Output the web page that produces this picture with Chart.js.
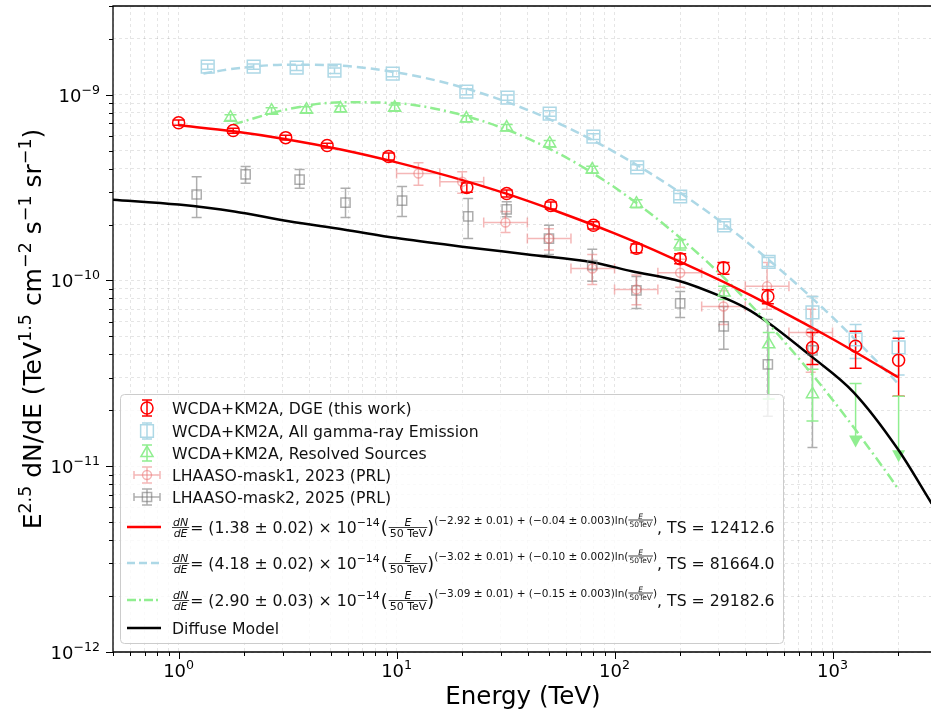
<!DOCTYPE html>
<html>
<head>
<meta charset="utf-8">
<script src="https://cdn.jsdelivr.net/npm/chart.js@4/dist/chart.umd.min.js"></script>
<style>
	html, body { margin: 0; padding: 0; background: #fff; }
</style>
</head>
<body>
<canvas id="chart" width="931" height="714"></canvas>
<script>
// assi (log-log)
var xMin = 0.5, xMax = 2830;
var yMin = 1e-12, yMax = 3e-9;
var xMajor = [1, 10, 100, 1000];
var yMajor = [1e-12, 1e-11, 1e-10, 1e-9];

// WCDA+KM2A, DGE (this work)
var dgeE   = [1.0, 1.78, 3.1, 4.8, 9.2, 21, 32, 51, 80, 126, 200, 316, 505, 809, 1276, 2010];
var dgeVal = [7.06e-10, 6.41e-10, 5.87e-10, 5.32e-10, 4.64e-10, 3.16e-10, 2.94e-10, 2.53e-10, 1.98e-10, 1.49e-10, 1.31e-10, 1.17e-10, 8.2e-11, 4.36e-11, 4.42e-11, 3.72e-11];
var dgeHi  = [7.3e-10, 6.6e-10, 6.05e-10, 5.48e-10, 4.85e-10, 3.35e-10, 3.07e-10, 2.64e-10, 2.07e-10, 1.57e-10, 1.39e-10, 1.25e-10, 8.9e-11, 5.25e-11, 5.32e-11, 4.88e-11];
var dgeLo  = [6.85e-10, 6.2e-10, 5.7e-10, 5.16e-10, 4.45e-10, 2.98e-10, 2.81e-10, 2.42e-10, 1.89e-10, 1.41e-10, 1.23e-10, 1.08e-10, 7.5e-11, 3.53e-11, 3.37e-11, 2.38e-11];

// WCDA+KM2A, All gamma-ray Emission
var allE   = [1.36, 2.21, 3.48, 5.19, 9.6, 20.9, 32.3, 50.4, 80, 127, 200, 318, 509, 809, 1276, 2010];
var allVal = [1.416e-9, 1.416e-9, 1.396e-9, 1.346e-9, 1.297e-9, 1.038e-9, 9.64e-10, 7.91e-10, 5.94e-10, 4.06e-10, 2.83e-10, 1.98e-10, 1.26e-10, 6.73e-11, 4.82e-11, 4.36e-11];
var allHi  = [1.46e-9, 1.46e-9, 1.44e-9, 1.39e-9, 1.34e-9, 1.075e-9, 9.95e-10, 8.18e-10, 6.15e-10, 4.2e-10, 2.94e-10, 2.07e-10, 1.33e-10, 8.2e-11, 5.8e-11, 5.32e-11];
var allLo  = [1.37e-9, 1.37e-9, 1.35e-9, 1.30e-9, 1.25e-9, 1.0e-9, 9.33e-10, 7.64e-10, 5.73e-10, 3.92e-10, 2.72e-10, 1.89e-10, 1.19e-10, 5.46e-11, 3.8e-11, 3.1e-11];

// WCDA+KM2A, Resolved Sources
var srcE   = [1.73, 2.67, 3.86, 5.53, 9.8, 20.9, 32, 50.4, 79, 126, 200, 318, 510, 809];
var srcVal = [7.52e-10, 8.2e-10, 8.3e-10, 8.41e-10, 8.51e-10, 7.43e-10, 6.65e-10, 5.46e-10, 3.95e-10, 2.59e-10, 1.56e-10, 8.61e-11, 4.53e-11, 2.44e-11];
var srcHi  = [7.8e-10, 8.5e-10, 8.6e-10, 8.7e-10, 8.8e-10, 7.7e-10, 6.9e-10, 5.67e-10, 4.12e-10, 2.72e-10, 1.66e-10, 9.3e-11, 5.25e-11, 3.33e-11];
var srcLo  = [7.25e-10, 7.9e-10, 8.0e-10, 8.1e-10, 8.2e-10, 7.15e-10, 6.4e-10, 5.25e-10, 3.78e-10, 2.46e-10, 1.46e-10, 7.9e-11, 2.3e-11, 1.75e-11];
// limiti superiori (frecce)
var srcUlE   = [1276, 2010];
var srcUlVal = [2.79e-11, 2.38e-11];
var srcUlTip = [1.26e-11, 1.05e-11];

// LHAASO-mask1, 2023 (PRL)
var m1E   = [12.6, 20, 31.6, 50, 79, 126, 200, 316, 501, 794];
var m1XLo = [10, 15.8, 25.1, 39.8, 63.1, 100, 158, 251, 398, 631];
var m1XHi = [15.8, 25.1, 39.8, 63.1, 100, 158, 251, 398, 631, 1000];
var m1Val = [3.76e-10, 3.40e-10, 2.05e-10, 1.68e-10, 1.16e-10, 8.95e-11, 1.10e-10, 7.24e-11, 9.29e-11, 5.25e-11];
var m1Hi  = [4.3e-10, 3.85e-10, 2.35e-10, 1.9e-10, 1.38e-10, 1.07e-10, 1.3e-10, 8.8e-11, 1.25e-10, 7.0e-11];
var m1Lo  = [3.25e-10, 2.95e-10, 1.81e-10, 1.46e-10, 9.5e-11, 7.4e-11, 9.2e-11, 5.8e-11, 7.0e-11, 3.2e-11];

// LHAASO-mask2, 2025 (PRL)
var m2E   = [1.21, 2.03, 3.59, 5.83, 10.6, 21.3, 32, 50, 79, 126, 200, 317, 505, 809];
var m2Val = [2.90e-10, 3.72e-10, 3.49e-10, 2.62e-10, 2.69e-10, 2.21e-10, 2.41e-10, 1.68e-10, 1.21e-10, 8.83e-11, 7.52e-11, 5.66e-11, 3.53e-11, 4.2e-11];
var m2Hi  = [3.62e-10, 4.1e-10, 3.95e-10, 3.13e-10, 3.2e-10, 2.76e-10, 2.65e-10, 1.98e-10, 1.47e-10, 1.05e-10, 8.73e-11, 7.24e-11, 6.17e-11, 8.2e-11];
var m2Lo  = [2.18e-10, 3.33e-10, 3.13e-10, 2.18e-10, 2.21e-10, 1.68e-10, 2.2e-10, 1.38e-10, 9.9e-11, 7.06e-11, 6.32e-11, 4.26e-11, 1.86e-11, 1.26e-11];

// curve di fit
var fitE      = [1, 1.78, 3.16, 5.62, 10, 17.8, 31.6, 56.2, 100, 178, 316, 562, 1000, 1778, 2000];
var fitDge    = [6.84e-10, 6.35e-10, 5.74e-10, 5.05e-10, 4.32e-10, 3.61e-10, 2.94e-10, 2.32e-10, 1.79e-10, 1.34e-10, 9.82e-11, 6.99e-11, 4.84e-11, 3.27e-11, 3.01e-11];
var fitAllE   = [1.3, 1.78, 3.16, 5.62, 10, 17.8, 31.6, 56.2, 100, 178, 316, 562, 1000, 1778, 2000];
var fitAll    = [1.30e-9, 1.377e-9, 1.45e-9, 1.43e-9, 1.317e-9, 1.137e-9, 9.19e-10, 6.95e-10, 4.91e-10, 3.25e-10, 2.02e-10, 1.17e-10, 6.34e-11, 3.22e-11, 2.78e-11];
var fitSrcE   = [1.78, 3.16, 5.62, 10, 17.8, 31.6, 56.2, 100, 178, 316, 562, 1000, 1778, 2000];
var fitSrc    = [6.92e-10, 8.34e-10, 9.10e-10, 8.99e-10, 8.04e-10, 6.52e-10, 4.78e-10, 3.17e-10, 1.90e-10, 1.04e-10, 5.12e-11, 2.28e-11, 9.2e-12, 7.55e-12];

// Diffuse Model
var diffE   = [0.5, 1, 1.8, 3.2, 5.7, 10, 20, 40, 80, 120, 200, 300, 400, 500, 800, 1250, 2000, 2850];
var diffVal = [2.72e-10, 2.56e-10, 2.35e-10, 2.08e-10, 1.88e-10, 1.69e-10, 1.52e-10, 1.38e-10, 1.25e-10, 1.12e-10, 9.9e-11, 8.3e-11, 7.1e-11, 6.0e-11, 3.9e-11, 2.5e-11, 1.23e-11, 6.3e-12];

// testi legenda
var pointLabels = ["WCDA+KM2A, DGE (this work)", "WCDA+KM2A, All gamma-ray Emission", "WCDA+KM2A, Resolved Sources", "LHAASO-mask1, 2023 (PRL)", "LHAASO-mask2, 2025 (PRL)"];
var fitNorm  = ["1.38 ± 0.02", "4.18 ± 0.02", "2.90 ± 0.03"];
var fitIndex = ["−2.92 ± 0.01", "−3.02 ± 0.01", "−3.09 ± 0.01"];
var fitBeta  = ["−0.04 ± 0.003", "−0.10 ± 0.002", "−0.15 ± 0.003"];
var fitTS    = ["12412.6", "81664.0", "29182.6"];
var diffLabel = "Diffuse Model";

// colori
var RED = "#ff0000";
var BLUE = "#add8e6";
var GREEN = "#90ee90";
var PINK = "rgba(236,112,112,0.5)";
var GREY = "rgba(120,120,120,0.6)";
var FONT = '"DejaVu Sans", sans-serif';
var LEG = 15.7;


function pts(xs, ys) {
	return xs.map(function(x, i) { return {x: x, y: ys[i]}; });
}

function logTicks(scale) {
	var ticks = [];
	var e0 = Math.floor(Math.log10(scale.min));
	var e1 = Math.ceil(Math.log10(scale.max));
	for (var e = e0; e <= e1; e++) {
		for (var m = 1; m < 10; m++) {
			var v = m * Math.pow(10, e);
			if (v >= scale.min * 0.999 && v <= scale.max * 1.001) {
				ticks.push({value: v, major: m === 1});
			}
		}
	}
	scale.ticks = ticks;
}

function font(size, style) {
	return (style ? style + " " : "") + size + "px " + FONT;
}

// testo a "pezzi": [testo, size, rialzo, stile]
function runsWidth(ctx, runs) {
	var w = 0;
	runs.forEach(function(r) { ctx.font = font(r[1], r[3]); w += ctx.measureText(r[0]).width; });
	return w;
}
function drawRuns(ctx, runs, x, y) {
	runs.forEach(function(r) {
		ctx.font = font(r[1], r[3]);
		ctx.fillText(r[0], x, y - (r[2] || 0));
		x += ctx.measureText(r[0]).width;
	});
	return x;
}
function powLabel(exp, size) {
	return [["10", size, 0], [exp, size * 0.7, size * 0.45]];
}

function frac(ctx, num, den, x, axisY, size, numStyle, denStyle) {
	ctx.font = font(size, numStyle);
	var wn = ctx.measureText(num).width;
	ctx.font = font(size, denStyle);
	var wd = ctx.measureText(den).width;
	var w = Math.max(wn, wd) + 2;
	ctx.textAlign = "center";
	ctx.font = font(size, numStyle);
	ctx.fillText(num, x + w / 2, axisY - 1.5);
	ctx.font = font(size, denStyle);
	ctx.fillText(den, x + w / 2, axisY + 1 + size * 0.75);
	ctx.textAlign = "left";
	ctx.lineWidth = 0.8;
	ctx.beginPath();
	ctx.moveTo(x, axisY);
	ctx.lineTo(x + w, axisY);
	ctx.stroke();
	return w;
}

function txt(ctx, s, x, y, size, style) {
	ctx.font = font(size, style);
	ctx.fillText(s, x, y);
	return ctx.measureText(s).width;
}

function marker(ctx, style, x, y, r, color) {
	ctx.strokeStyle = color;
	ctx.lineWidth = 1.5;
	ctx.beginPath();
	if (style == "circle") {
		ctx.arc(x, y, r, 0, Math.PI * 2);
	} else if (style == "rect") {
		var s = r * Math.SQRT1_2;
		ctx.rect(x - s, y - s, 2 * s, 2 * s);
	} else {
		var h = r * 1.5, half = r * Math.sqrt(3) / 2;
		ctx.moveTo(x, y - r);
		ctx.lineTo(x + half, y - r + h);
		ctx.lineTo(x - half, y - r + h);
		ctx.closePath();
	}
	ctx.stroke();
}

function vbar(ctx, x, y1, y2, cap) {
	ctx.beginPath();
	ctx.moveTo(x, y1); ctx.lineTo(x, y2);
	ctx.moveTo(x - cap, y1); ctx.lineTo(x + cap, y1);
	ctx.moveTo(x - cap, y2); ctx.lineTo(x + cap, y2);
	ctx.stroke();
}
function hbar(ctx, y, x1, x2, cap) {
	ctx.beginPath();
	ctx.moveTo(x1, y); ctx.lineTo(x2, y);
	ctx.moveTo(x1, y - cap); ctx.lineTo(x1, y + cap);
	ctx.moveTo(x2, y - cap); ctx.lineTo(x2, y + cap);
	ctx.stroke();
}

// serie con barre d'errore
var errSeries = [
	{E: m2E, lo: m2Lo, hi: m2Hi, color: GREY, cap: 5},
	{E: m1E, lo: m1Lo, hi: m1Hi, xlo: m1XLo, xhi: m1XHi, val: m1Val, color: PINK, cap: 5},
	{E: srcE, lo: srcLo, hi: srcHi, color: GREEN, cap: 6},
	{E: allE, lo: allLo, hi: allHi, color: BLUE, cap: 6},
	{E: dgeE, lo: dgeLo, hi: dgeHi, color: RED, cap: 6}
];

var lookPlugin = {
	id: "lookPlugin",
	beforeDatasetsDraw: function(chart) {
		var ctx = chart.ctx, xs = chart.scales.x, ys = chart.scales.y, a = chart.chartArea;
		ctx.save();
		ctx.beginPath();
		ctx.rect(a.left, a.top, a.right - a.left, a.bottom - a.top);
		ctx.clip();
		ctx.lineWidth = 1.5;
		errSeries.forEach(function(s) {
			ctx.strokeStyle = s.color;
			for (var i = 0; i < s.E.length; i++) {
				var px = xs.getPixelForValue(s.E[i]);
				vbar(ctx, px, ys.getPixelForValue(s.hi[i]), ys.getPixelForValue(s.lo[i]), s.cap);
				if (s.xlo) {
					hbar(ctx, ys.getPixelForValue(s.val[i]), xs.getPixelForValue(s.xlo[i]), xs.getPixelForValue(s.xhi[i]), s.cap);
				}
			}
		});
		// frecce limiti superiori
		ctx.strokeStyle = GREEN;
		ctx.fillStyle = GREEN;
		for (var i = 0; i < srcUlE.length; i++) {
			var px = xs.getPixelForValue(srcUlE[i]);
			var y1 = ys.getPixelForValue(srcUlVal[i]);
			var y2 = ys.getPixelForValue(srcUlTip[i]);
			ctx.beginPath();
			ctx.moveTo(px - 6, y1); ctx.lineTo(px + 6, y1);
			ctx.moveTo(px, y1); ctx.lineTo(px, y2 - 8);
			ctx.stroke();
			ctx.beginPath();
			ctx.moveTo(px - 6.5, y2 - 12); ctx.lineTo(px + 6.5, y2 - 12); ctx.lineTo(px, y2);
			ctx.closePath();
			ctx.fill();
		}
		ctx.restore();
	},
	afterDraw: function(chart) {
		var ctx = chart.ctx, xs = chart.scales.x, ys = chart.scales.y, a = chart.chartArea;
		ctx.save();
		ctx.fillStyle = "#000";
		ctx.strokeStyle = "#000";

		// bordi
		ctx.lineWidth = 1.3;
		ctx.beginPath();
		ctx.moveTo(a.right, a.top); ctx.lineTo(a.left, a.top);
		ctx.lineTo(a.left, a.bottom); ctx.lineTo(a.right, a.bottom);
		ctx.stroke();

		// tacche
		ctx.lineWidth = 1;
		xs.ticks.forEach(function(t) {
			var px = Math.round(xs.getPixelForValue(t.value)) + 0.5;
			ctx.beginPath();
			ctx.moveTo(px, a.bottom);
			ctx.lineTo(px, a.bottom + (t.major ? 7 : 4));
			ctx.stroke();
		});
		ys.ticks.forEach(function(t) {
			var py = Math.round(ys.getPixelForValue(t.value)) + 0.5;
			ctx.beginPath();
			ctx.moveTo(a.left, py);
			ctx.lineTo(a.left - (t.major ? 7 : 4), py);
			ctx.stroke();
		});

		// etichette
		ctx.textAlign = "left";
		ctx.textBaseline = "alphabetic";
		xMajor.forEach(function(v) {
			var runs = powLabel(String(Math.round(Math.log10(v))), 18);
			var w = runsWidth(ctx, runs);
			drawRuns(ctx, runs, xs.getPixelForValue(v) - w / 2, a.bottom + 25);
		});
		yMajor.forEach(function(v) {
			var runs = powLabel("−" + String(-Math.round(Math.log10(v))), 18);
			var w = runsWidth(ctx, runs);
			drawRuns(ctx, runs, a.left - 13 - w, ys.getPixelForValue(v) + 7);
		});

		// titoli assi
		ctx.font = font(24.5);
		ctx.textAlign = "center";
		ctx.fillText("Energy (TeV)", 523, 704);
		ctx.textAlign = "left";
		var yTitle = [["E", 25, 0], ["2.5", 17.5, 10.5], [" dN/dE (TeV", 25, 0], ["1.5", 17.5, 10.5],
			[" cm", 25, 0], ["−2", 17.5, 10.5], [" s", 25, 0], ["−1", 17.5, 10.5], [" sr", 25, 0], ["−1", 17.5, 10.5], [")", 25, 0]];
		var tw = runsWidth(ctx, yTitle);
		ctx.translate(41, (a.top + a.bottom) / 2);
		ctx.rotate(-Math.PI / 2);
		drawRuns(ctx, yTitle, -tw / 2, 0);
		ctx.setTransform(1, 0, 0, 1, 0, 0);

		drawLegend(ctx);
		ctx.restore();
	}
};

function drawLegend(ctx) {
	// riquadro
	ctx.fillStyle = "rgba(255,255,255,0.8)";
	ctx.strokeStyle = "#cccccc";
	ctx.lineWidth = 1;
	ctx.beginPath();
	ctx.roundRect(120.5, 394.5, 663, 249, 4);
	ctx.fill();
	ctx.stroke();

	var hx = 147, tx = 172;
	var rowsY = [408, 431, 453, 475, 497];
	var styles = [
		{shape: "circle", r: 6, color: RED},
		{shape: "rect", r: 9, color: BLUE},
		{shape: "triangle", r: 7, color: GREEN},
		{shape: "circle", r: 4.5, color: PINK, xerr: true},
		{shape: "rect", r: 6.5, color: GREY, xerr: true}
	];
	ctx.lineWidth = 1.5;
	styles.forEach(function(s, i) {
		var y = rowsY[i];
		ctx.strokeStyle = s.color;
		vbar(ctx, hx, y - 8, y + 8, 5);
		if (s.xerr) hbar(ctx, y, hx - 13, hx + 13, 4);
		marker(ctx, s.shape, hx, y, s.r, s.color);
		ctx.fillStyle = "#111";
		txt(ctx, pointLabels[i], tx, y + 5.5, LEG);
	});

	// linee
	var lineRows = [
		{y: 527, color: RED, dash: []},
		{y: 563, color: BLUE, dash: [8, 4]},
		{y: 600, color: GREEN, dash: [9, 3, 2, 3]},
		{y: 628, color: "#000", dash: []}
	];
	lineRows.forEach(function(l, i) {
		ctx.strokeStyle = l.color;
		ctx.lineWidth = 2.5;
		ctx.setLineDash(l.dash);
		ctx.beginPath();
		ctx.moveTo(127, l.y);
		ctx.lineTo(161, l.y);
		ctx.stroke();
		ctx.setLineDash([]);
		ctx.fillStyle = "#111";
		ctx.strokeStyle = "#111";
		if (i < 3) {
			formulaRow(ctx, tx, l.y + 5.5, i);
		} else {
			txt(ctx, diffLabel, tx, l.y + 5.5, LEG);
		}
	});
}

function formulaRow(ctx, x, by, i) {
	var axis = by - 5;
	x += frac(ctx, "dN", "dE", x, axis, 11, "italic", "italic") + 1;
	x += txt(ctx, "= (" + fitNorm[i] + ") × 10", x, by, LEG);
	x += txt(ctx, "−14", x, by - 7, 11);
	x += txt(ctx, "(", x + 1, by + 1, 17.5) + 2;
	x += frac(ctx, "E", "50 TeV", x, axis, 11, "italic", "");
	x += txt(ctx, ")", x, by + 1, 17.5);
	var sy = by - 9;
	x += txt(ctx, "(" + fitIndex[i] + ") + (" + fitBeta[i] + ")ln(", x, sy, 10.5);
	x += frac(ctx, "E", "50TeV", x, sy - 3.5, 7.5, "italic", "");
	x += txt(ctx, ")", x, sy, 10.5);
	txt(ctx, ", TS = " + fitTS[i], x, by, LEG);
}


var gridOpts = {color: "rgba(0,0,0,0.13)", lineWidth: 0.8, drawTicks: false};

new Chart(document.getElementById("chart"), {
	type: "scatter",
	data: {
		datasets: [
			{data: pts(dgeE, dgeVal), pointStyle: "circle", pointRadius: 6, pointBorderColor: RED, pointBackgroundColor: "rgba(0,0,0,0)", pointBorderWidth: 1.5},
			{data: pts(allE, allVal), pointStyle: "rect", pointRadius: 9, pointBorderColor: BLUE, pointBackgroundColor: "rgba(0,0,0,0)", pointBorderWidth: 1.5},
			{data: pts(srcE, srcVal), pointStyle: "triangle", pointRadius: 7, pointBorderColor: GREEN, pointBackgroundColor: "rgba(0,0,0,0)", pointBorderWidth: 1.5},
			{data: pts(m1E, m1Val), pointStyle: "circle", pointRadius: 4.5, pointBorderColor: PINK, pointBackgroundColor: "rgba(0,0,0,0)", pointBorderWidth: 1.5},
			{data: pts(m2E, m2Val), pointStyle: "rect", pointRadius: 6.5, pointBorderColor: GREY, pointBackgroundColor: "rgba(0,0,0,0)", pointBorderWidth: 1.5},
			{data: pts(fitE, fitDge), showLine: true, pointRadius: 0, borderColor: RED, borderWidth: 2.5, cubicInterpolationMode: "monotone"},
			{data: pts(fitAllE, fitAll), showLine: true, pointRadius: 0, borderColor: BLUE, borderWidth: 2.5, borderDash: [9, 5], cubicInterpolationMode: "monotone"},
			{data: pts(fitSrcE, fitSrc), showLine: true, pointRadius: 0, borderColor: GREEN, borderWidth: 2.5, borderDash: [10, 4, 2, 4], cubicInterpolationMode: "monotone"},
			{data: pts(diffE, diffVal), showLine: true, pointRadius: 0, borderColor: "#000", borderWidth: 2.5, cubicInterpolationMode: "monotone"}
		]
	},
	options: {
		responsive: false,
		animation: false,
		events: [],
		layout: {autoPadding: false, padding: {top: 6, right: 0, bottom: 0, left: 0}},
		plugins: {
			legend: {display: false},
			tooltip: {enabled: false}
		},
		scales: {
			x: {
				type: "logarithmic", min: xMin, max: xMax,
				ticks: {display: false, autoSkip: false},
				grid: gridOpts,
				border: {display: false, dash: [3, 3]},
				afterBuildTicks: logTicks,
				afterFit: function(s) { s.height = 62; }
			},
			y: {
				type: "logarithmic", min: yMin, max: yMax,
				ticks: {display: false, autoSkip: false},
				grid: gridOpts,
				border: {display: false, dash: [3, 3]},
				afterBuildTicks: logTicks,
				afterFit: function(s) { s.width = 113; }
			}
		}
	},
	plugins: [lookPlugin]
});
</script>
</body>
</html>
